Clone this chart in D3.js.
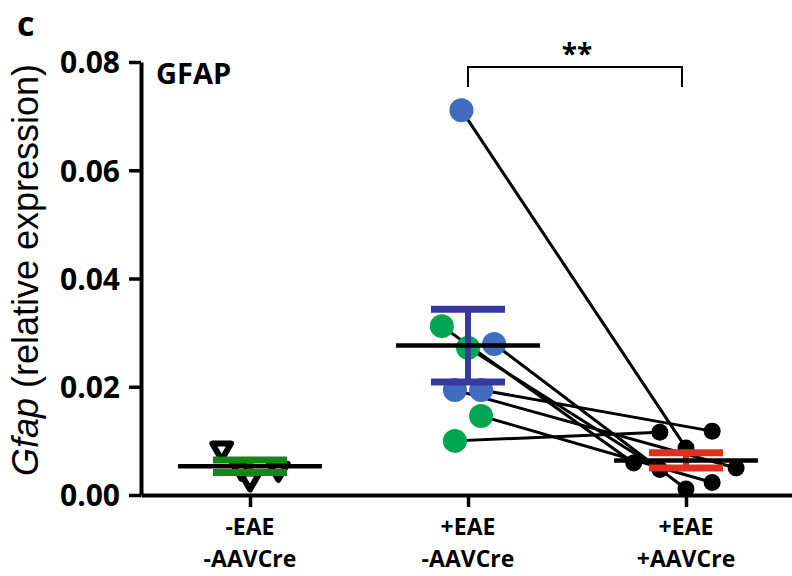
<!DOCTYPE html>
<html>
<head>
<meta charset="utf-8">
<script src="https://cdn.jsdelivr.net/npm/d3@7"></script>
<style>
  body { margin: 0; background: #fff; }
  svg { display: block; }
  .axis text { font-family: "Open Sans", sans-serif; font-weight: bold; font-size: 29px; fill: #000; }
</style>
</head>
<body>
<svg id="chart" width="792" height="576"></svg>
<script>
// groups on the x axis (two lines each)
const groupLine1 = ["-EAE", "+EAE", "+EAE"]
const groupLine2 = ["-AAVCre", "-AAVCre", "+AAVCre"]

const yTicks = [0, 0.02, 0.04, 0.06, 0.08]

// -EAE -AAVCre (open triangles)
const ctrlValues = [0.0085, 0.0050, 0.0030, 0.0048]
const ctrlJitter = [-0.13, -0.04, 0.0, 0.13]

// +EAE -AAVCre, paired with +EAE +AAVCre by index
const eaeValues = [0.0711, 0.0312, 0.0272, 0.0279, 0.0194, 0.0194, 0.0146, 0.0100]
const eaeJitter = [-0.03, -0.12, 0.0, 0.12, -0.06, 0.06, 0.06, -0.06]
const eaeKind   = ["b", "g", "g", "b", "b", "b", "g", "g"]

const creValues = [0.0087, 0.0059, 0.0047, 0.0011, 0.0050, 0.0118, 0.0023, 0.0116]
const creJitter = [0.0, -0.24, -0.12, 0.0, 0.23, 0.12, 0.12, -0.12]

const sigLabel = "**"

const colors = { b: "#3f6cbf", g: "#00a651" }
const barColors = ["#128a12", "#38389e", "#e0301e"]

const svg = d3.select("#chart")

const x = d3.scaleLinear().domain([-0.5, 2.5]).range([141, 795])
const y = d3.scaleLinear().domain([0, 0.08]).range([495, 62])

// axes
const yAxis = svg.append("g")
    .attr("class", "axis")
    .attr("transform", "translate(141,0)")
    .call(d3.axisLeft(y).tickValues(yTicks).tickFormat(d3.format(".2f"))
        .tickSize(12).tickSizeOuter(0).tickPadding(9))
yAxis.select(".domain").attr("stroke-width", 4)
yAxis.selectAll(".tick line").attr("stroke-width", 3.5)
yAxis.selectAll(".tick text").attr("dy", "0.36em").style("font-size", "30px")

const xAxis = svg.append("g")
    .attr("class", "axis")
    .attr("transform", "translate(0,495)")
    .call(d3.axisBottom(x).tickValues([0, 1, 2]).tickFormat("")
        .tickSize(12).tickSizeOuter(0))
xAxis.select(".domain").attr("stroke-width", 4)
xAxis.selectAll(".tick line").attr("stroke-width", 3.5)

// x labels, one text per line
;[[groupLine1, 535], [groupLine2, 567]].forEach(([labels, ly]) => {
    svg.append("g").selectAll("text")
        .data([0, 1, 2])
        .join("text")
        .attr("x", d => x(d))
        .attr("y", ly)
        .attr("text-anchor", "middle")
        .style("font-family", "'Open Sans', sans-serif")
        .style("font-weight", "bold")
        .style("font-size", "23px")
        .text(d => labels[d])
})

// y title
const yt = svg.append("text")
    .attr("transform", "translate(38,270) rotate(-90)")
    .attr("text-anchor", "middle")
    .style("font-family", "'Liberation Sans', Arial, sans-serif")
    .style("font-size", "36px")
yt.append("tspan").style("font-style", "italic").text("Gfap")
yt.append("tspan").text(" (relative expression)")

// panel label + title
svg.append("text").attr("x", 17).attr("y", 36).text("c")
    .style("font-family", "'Open Sans', sans-serif").style("font-weight", "bold").style("font-size", "34px")
svg.append("text").attr("x", 156).attr("y", 84).text("GFAP")
    .style("font-family", "'Open Sans', sans-serif").style("font-weight", "bold").style("font-size", "29px")

// significance bracket
const by = 67
svg.append("path")
    .attr("d", `M${x(1)},${by + 20}V${by}H${x(2) - 4}V${by + 20}`)
    .attr("fill", "none").attr("stroke", "#000").attr("stroke-width", 2)
svg.append("text").attr("x", (x(1) + x(2)) / 2).attr("y", by - 3)
    .attr("text-anchor", "middle").text(sigLabel)
    .style("font-family", "'Open Sans', sans-serif").style("font-weight", "bold").style("font-size", "28px")

// paired lines
svg.append("g").selectAll("line")
    .data(eaeValues)
    .join("line")
    .attr("x1", (d, i) => x(1 + eaeJitter[i]))
    .attr("y1", d => y(d))
    .attr("x2", (d, i) => x(2 + creJitter[i]))
    .attr("y2", (d, i) => y(creValues[i]))
    .attr("stroke", "#000").attr("stroke-width", 3)

// points
const tri = d3.symbol().type(d3.symbolTriangle).size(150)
svg.append("g").selectAll("path")
    .data(ctrlValues)
    .join("path")
    .attr("d", tri)
    .attr("transform", (d, i) => `translate(${x(0 + ctrlJitter[i])},${y(d)}) rotate(180)`)
    .attr("fill", "#fff").attr("stroke", "#000").attr("stroke-width", 6).attr("stroke-linejoin", "round")

svg.append("g").selectAll("circle")
    .data(eaeValues)
    .join("circle")
    .attr("cx", (d, i) => x(1 + eaeJitter[i]))
    .attr("cy", d => y(d))
    .attr("r", 12)
    .attr("fill", (d, i) => colors[eaeKind[i]])

svg.append("g").selectAll("circle")
    .data(creValues)
    .join("circle")
    .attr("cx", (d, i) => x(2 + creJitter[i]))
    .attr("cy", d => y(d))
    .attr("r", 8.5)
    .attr("fill", "#000")

// mean and SEM
const groupsData = [ctrlValues, eaeValues, creValues]
groupsData.forEach((vals, gi) => {
    const m = d3.mean(vals)
    const sem = d3.deviation(vals) / Math.sqrt(vals.length)
    const g = svg.append("g")
    g.append("line")
        .attr("x1", x(gi)).attr("x2", x(gi))
        .attr("y1", y(m + sem)).attr("y2", y(m - sem))
        .attr("stroke", barColors[gi]).attr("stroke-width", 6)
    ;[m + sem, m - sem].forEach(v => {
        g.append("line")
            .attr("x1", x(gi - 0.17)).attr("x2", x(gi + 0.17))
            .attr("y1", y(v)).attr("y2", y(v))
            .attr("stroke", barColors[gi]).attr("stroke-width", 7)
    })
    g.append("line")
        .attr("x1", x(gi - 0.33)).attr("x2", x(gi + 0.33))
        .attr("y1", y(m)).attr("y2", y(m))
        .attr("stroke", "#000").attr("stroke-width", 4.5)
})
</script>
</body>
</html>
